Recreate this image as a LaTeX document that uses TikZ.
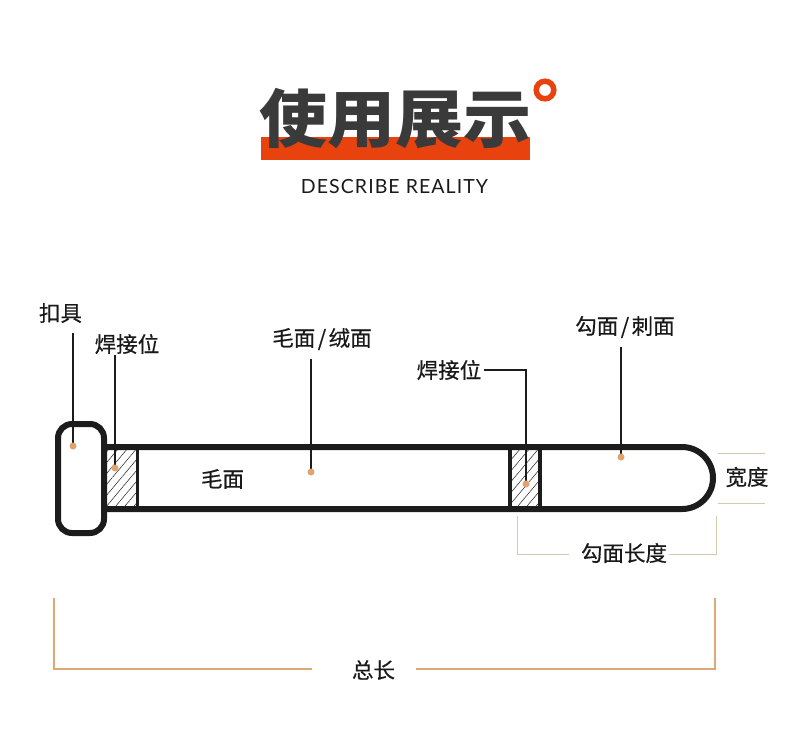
\documentclass[tikz,border=0pt]{standalone}
\usepackage{fontspec}
\usetikzlibrary{calc,patterns.meta}
\setmainfont{Lato}
\newfontfamily\cjk{Noto Sans CJK SC}
\newfontfamily\cjktag[FakeBold=0.5]{Noto Sans CJK SC}
\newfontfamily\subfont[LetterSpace=5.5]{Lato}
\definecolor{titlegray}{HTML}{3A3A3A}
\definecolor{barcolor}{HTML}{E8430F}
\definecolor{strapcolor}{HTML}{1C1C1C}
\definecolor{dotcolor}{HTML}{E0A26E}
\definecolor{bigbracket}{HTML}{DDA878}
\definecolor{smallbracket}{HTML}{D9C9AC}
\tikzset{
  tag/.style={font=\cjktag\fontsize{21.5}{24}\selectfont, text=black!90, inner sep=0pt, outer sep=3pt},
  strap/.style={draw=strapcolor, line width=6pt},
  weldwall/.style={draw=strapcolor, line width=3.5pt},
  weldfill/.style={pattern={Lines[angle=50,distance=7pt,line width=0.5pt]}, pattern color=strapcolor},
  leader/.style={draw=strapcolor, line width=1.5pt},
  dotmark/.style={circle, fill=dotcolor, inner sep=0pt, minimum size=7pt},
  sizeline/.style={draw=smallbracket, line width=1pt}
}
\begin{document}
\begin{tikzpicture}[x=1pt, y=-1pt]
  \useasboundingbox (0,0) rectangle (790,753);

  % Title
  \fill[barcolor] (261,137) rectangle (530,160);
  \node[font=\cjk\bfseries\fontsize{68}{70}\selectfont, text=titlegray, inner sep=0pt] (titletext) at (395.5,118.5) {\scalebox{1}[0.93]{使用展示}};
  \draw[barcolor, line width=5.5pt] (545,90) circle (8.8);
  \node[font=\subfont\fontsize{19.5}{22}\selectfont, text=black!90, inner sep=0pt] (subtitle) at (394.5,187) {DESCRIBE REALITY};

  % Weld zones
  \fill[weldfill] (107,450) rectangle (137,506);
  \fill[weldfill] (510,450) rectangle (540,506);
  \draw[weldwall] (137.5,447) -- (137.5,509);
  \draw[weldwall] (510,447) -- (510,509);
  \draw[weldwall] (540,447) -- (540,509);

  % Strap and buckle
  \draw[strap] (104,447) -- (682,447) arc (-90:90:31) -- (104,509);
  \draw[strap, fill=white, rounded corners=14pt] (58,424) rectangle (104,533);

  % Labels
  \node[tag] (tagbuckle) at (60.5,313) {扣具};
  \node[tag] (tagwelda) at (127,344) {焊接位};
  \node[tag] (tagfuzz) at (322,339) {毛面\kern2.5pt/\kern2.5pt绒面};
  \node[tag] (taghook) at (625,327) {勾面\kern2.5pt/\kern2.5pt刺面};
  \node[tag] (tagweldb) at (449,370) {焊接位};
  \node[tag] (tagface) at (222.5,479) {毛面};
  \node[tag] (tagwidth) at (747,477) {宽度};
  \node[tag] (taghooklen) at (624,553) {勾面长度};
  \node[tag] (tagtotal) at (373.5,670) {总长};

  % Leader lines
  \coordinate (topbuckle) at (73,333);
  \coordinate (topwelda) at (115,355);
  \coordinate (topfuzz) at (311,359);
  \coordinate (tophook) at (621,347);
  \coordinate (dotbuckle) at (73,446);
  \coordinate (dotwelda) at (115,468);
  \coordinate (dotfuzz) at (311,472);
  \coordinate (dotweldb) at (526,484);
  \coordinate (dothook) at (621,457);
  \draw[leader] (topbuckle) -- (dotbuckle);
  \draw[leader] (topwelda) -- (dotwelda);
  \draw[leader] (topfuzz) -- (dotfuzz);
  \draw[leader] (tophook) -- (dothook);
  \draw[leader] (tagweldb.east) -| (dotweldb);

  % Dots
  \node[dotmark] at (dotbuckle) {};
  \node[dotmark] at (dotwelda) {};
  \node[dotmark] at (dotfuzz) {};
  \node[dotmark] at (dotweldb) {};
  \node[dotmark] at (dothook) {};

  % Size brackets
  \coordinate (widthtopa) at (718,453);
  \coordinate (widthtopb) at (765,453);
  \coordinate (widthbota) at (718,503);
  \coordinate (widthbotb) at (765,503);
  \draw[sizeline] (widthtopa) -- (widthtopb);
  \draw[sizeline] (widthbota) -- (widthbotb);
  \coordinate (hooka) at (517,516);
  \coordinate (hookb) at (569,554);
  \coordinate (hookc) at (669,554);
  \coordinate (hookd) at (716,516);
  \draw[sizeline] (hooka) |- (hookb);
  \draw[sizeline] (hookd) |- (hookc);
  \coordinate (totala) at (54,598);
  \coordinate (totalb) at (312,669);
  \coordinate (totalc) at (416,669);
  \coordinate (totald) at (715,598);
  \draw[draw=bigbracket, line width=1.5pt] (totala) |- (totalb);
  \draw[draw=bigbracket, line width=1.5pt] (totald) |- (totalc);

\end{tikzpicture}
\end{document}
